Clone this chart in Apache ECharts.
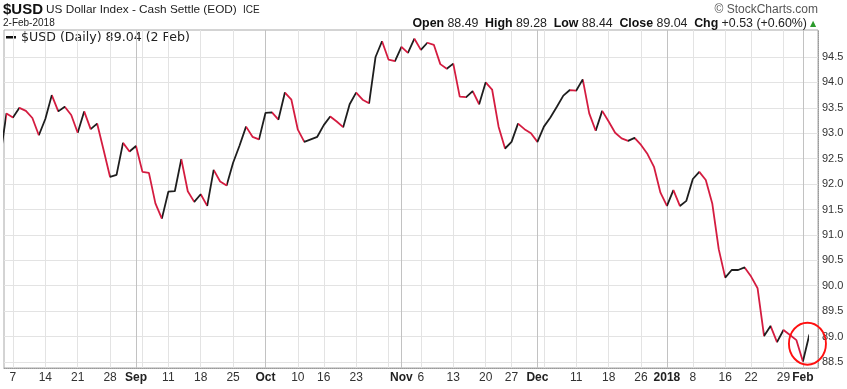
<!DOCTYPE html>
<html><head><meta charset="utf-8">
<script src="https://cdn.jsdelivr.net/npm/echarts@6/dist/echarts.min.js"></script>
<style>html,body{margin:0;padding:0;background:#fff}#c{width:847px;height:389px}</style>
</head><body><div id="c"></div>
<script>
// ---- data ----
const startDate = '2017-08-03';
const endDate = '2018-02-02';
const holidays = ['2017-09-04','2017-10-09','2017-11-23','2017-12-25','2018-01-01','2018-01-15'];
const closes = [
 92.50, 93.39, 93.31, 93.50, 93.44, 93.30, 92.96, 93.28, 93.75, 93.43,
 93.52, 93.36, 93.01, 93.43, 93.08, 93.19, 92.67, 92.14, 92.18, 92.81,
 92.64, 92.75, 92.24, 92.22, 91.62, 91.32, 91.85, 91.86, 92.49, 91.86,
 91.65, 91.80, 91.57, 92.28, 92.05, 91.97, 92.42, 92.76, 93.13, 92.93,
 92.88, 93.40, 93.41, 93.27, 93.80, 93.66, 93.07, 92.83, 92.88, 92.93,
 93.16, 93.33, 93.23, 93.12, 93.57, 93.80, 93.66, 93.59, 94.50, 94.81,
 94.45, 94.42, 94.70, 94.58, 94.86, 94.64, 94.78, 94.74, 94.36, 94.27,
 94.37, 93.72, 93.71, 93.83, 93.57, 94.00, 93.86, 93.13, 92.70, 92.83,
 93.19, 93.08, 93.00, 92.83, 93.13, 93.31, 93.52, 93.74, 93.85, 93.84,
 94.06, 93.39, 93.05, 93.44, 93.23, 93.01, 92.90, 92.85, 92.91, 92.77,
 92.59, 92.34, 91.83, 91.57, 91.88, 91.57, 91.67, 92.10, 92.24, 92.08,
 91.62, 90.72, 90.16, 90.31, 90.31, 90.36, 90.18, 89.95, 89.01, 89.21,
 88.89, 89.13, 89.03, 88.93, 88.51, 89.04
];
const tickDates = ['2017-08-07','2017-08-14','2017-08-21','2017-08-28','2017-09-01','2017-09-11','2017-09-18','2017-09-25',
 '2017-10-02','2017-10-10','2017-10-16','2017-10-23','2017-11-01','2017-11-06','2017-11-13','2017-11-20','2017-11-27',
 '2017-12-01','2017-12-11','2017-12-18','2017-12-26','2018-01-02','2018-01-08','2018-01-16','2018-01-22','2018-01-29','2018-02-01'];
const tickLabels = ['7','14','21','28','Sep','11','18','25','Oct','10','16','23','Nov','6','13','20','27',
 'Dec','11','18','26','2018','8','16','22','29','Feb'];
const monthLabels = ['Sep','Oct','Nov','Dec','2018','Feb'];
const extraWeekDates = ['2017-09-05','2017-10-30','2017-12-04'];
const monthDates = ['2017-09-01','2017-10-02','2017-11-01','2017-12-01','2018-01-02','2018-02-01'];
const yTicks = [88.5, 89.0, 89.5, 90.0, 90.5, 91.0, 91.5, 92.0, 92.5, 93.0, 93.5, 94.0, 94.5];
const yMin = 88.382, yMax = 95.031;

// trading-day calendar (categories)
function tradingDays(s, e) {
  const out = [];
  const d = new Date(s + 'T00:00:00Z'), end = new Date(e + 'T00:00:00Z');
  while (d <= end) {
    const iso = d.toISOString().slice(0, 10);
    const wd = d.getUTCDay();
    if (wd !== 0 && wd !== 6 && holidays.indexOf(iso) < 0) out.push(iso);
    d.setUTCDate(d.getUTCDate() + 1);
  }
  return out;
}
const dates = tradingDays(startDate, endDate);
const idx = (ds) => dates.indexOf(ds);
const labelIdx = tickDates.map(idx);
const weekIdx = labelIdx.concat(extraWeekDates.map(idx)).sort((a, b) => a - b);
const monthIdx = monthDates.map(idx);
const seriesData = closes.map((v, i) => [i, v]);
const xMin = 0.618, xMax = 126.33;

const upColor = '#1e1e1e', downColor = '#d41c40';
const pieces = [{ lte: 0, color: upColor }];
for (let i = 1; i < closes.length; i++) {
  pieces.push({ gt: i - 1, lte: i, color: closes[i] >= closes[i - 1] ? upColor : downColor });
}

const chart = echarts.init(document.getElementById('c'), null, { renderer: 'canvas' });
const F = '"Liberation Sans", Arial, sans-serif';
chart.setOption({
  animation: false,
  backgroundColor: '#fff',
  grid: { left: 4, right: 29, top: 30, bottom: 21, show: true, borderColor: '#a8a8a8', borderWidth: 1, backgroundColor: '#fff' },
  xAxis: [{
    type: 'value', min: xMin, max: xMax, position: 'bottom',
    axisLine: { show: true, lineStyle: { color: '#999', type: 'dotted' } },
    axisTick: { show: false, customValues: weekIdx },
    axisLabel: {
      customValues: labelIdx, margin: 4, color: '#333', fontSize: 12, fontFamily: F,
      formatter: function (v) {
        const k = labelIdx.indexOf(Math.round(v));
        if (k < 0) return '';
        const t = tickLabels[k];
        return monthLabels.indexOf(t) >= 0 ? '{b|' + t + '}' : t;
      },
      rich: {
        b: { fontWeight: 'bold', fontSize: 12, color: '#222', fontFamily: F }
      }
    },
    splitLine: { show: true, lineStyle: { color: '#e3e3e3', width: 1 } }
  }, {
    type: 'value', min: xMin, max: xMax, position: 'bottom',
    axisLine: { show: false }, axisLabel: { show: false },
    axisTick: { show: false, customValues: monthIdx },
    splitLine: { show: true, lineStyle: { color: '#c2c2c2', width: 1 } }
  }],
  yAxis: {
    type: 'value', position: 'right', min: yMin, max: yMax,
    axisLine: { show: true, lineStyle: { color: '#999', type: 'dotted' } },
    axisTick: { show: false, customValues: yTicks },
    axisLabel: { customValues: yTicks, margin: 4, color: '#333', fontSize: 11, fontFamily: F, formatter: v => v.toFixed(1) },
    splitLine: { show: true, lineStyle: { color: '#e3e3e3', width: 1 } }
  },
  visualMap: { show: false, type: 'piecewise', dimension: 0, seriesIndex: 0, pieces: pieces },
  series: [{
    type: 'line', data: seriesData, showSymbol: false, symbol: 'none', clip: true,
    lineStyle: { width: 1.8 },
    markPoint: {
      symbol: 'circle', symbolSize: [37, 42], silent: true,
      label: { show: false },
      itemStyle: { color: 'rgba(0,0,0,0)', borderColor: '#ff1010', borderWidth: 2 },
      data: [{ coord: [closes.length - 1.3, 88.86] }]
    }
  }],
  graphic: [
    { type: 'text', x: 3, y: 9.5, style: { text: '$USD', font: 'bold 15px ' + F, fill: '#111', verticalAlign: 'middle' } },
    { type: 'text', x: 46, y: 10, style: { text: 'US Dollar Index - Cash Settle (EOD)', font: '11.8px ' + F, fill: '#222', verticalAlign: 'middle' } },
    { type: 'text', x: 243, y: 10.5, style: { text: 'ICE', font: '10px ' + F, fill: '#222', verticalAlign: 'middle' } },
    { type: 'text', x: 3, y: 23.5, style: { text: '2-Feb-2018', font: '10px ' + F, fill: '#222', verticalAlign: 'middle' } },
    { type: 'text', x: 818, y: 10, style: { text: '© StockCharts.com', font: '12px ' + F, fill: '#555', align: 'right', verticalAlign: 'middle' } },
    { type: 'text', x: 807, y: 23.5, style: {
        text: '{b|Open} {v|88.49}  {b|High} {v|89.28}  {b|Low} {v|88.44}  {b|Close} {v|89.04}  {b|Chg} {v|+0.53 (+0.60%)}',
        align: 'right', verticalAlign: 'middle',
        rich: { b: { font: 'bold 12.4px ' + F, fill: '#111' }, v: { font: '12.4px ' + F, fill: '#222' } }
      } },
    { type: 'text', x: 813, y: 24, style: { text: '▲', font: '8px "DejaVu Sans"', fill: '#2a9a2a', align: 'center', verticalAlign: 'middle' } },
    { type: 'rect', shape: { x: 5, y: 31, width: 190, height: 13 }, style: { fill: '#fff' } },
    { type: 'rect', shape: { x: 6, y: 36, width: 10, height: 2.5 }, style: { fill: '#111' } },
    { type: 'text', x: 21, y: 37.5, style: { text: '$USD (Daily) 89.04 (2 Feb)', font: '12.6px "DejaVu Sans"', fill: '#222', verticalAlign: 'middle' } }
  ]
});
</script>
</body></html>
